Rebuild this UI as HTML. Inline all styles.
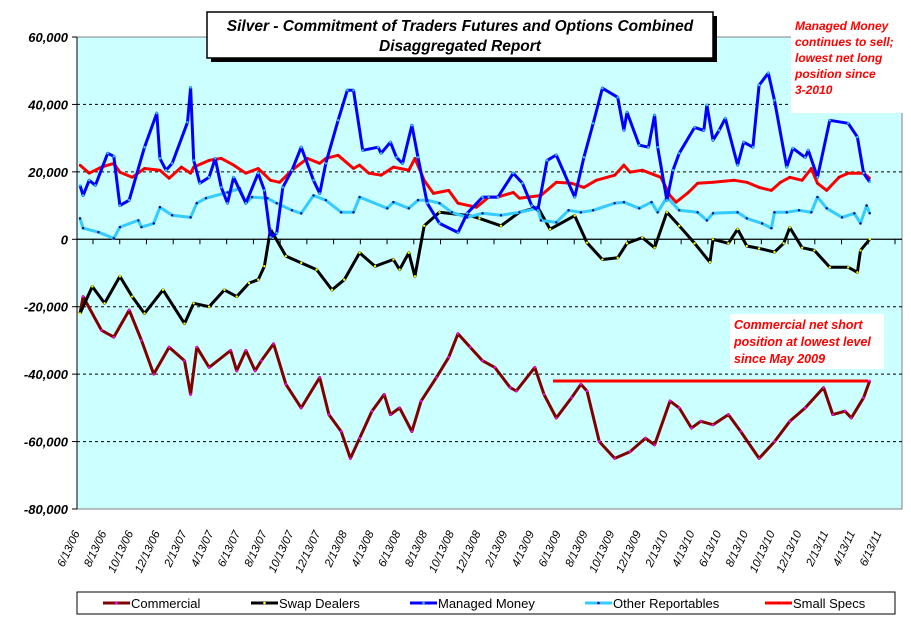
<!DOCTYPE html>
<html><head><meta charset="utf-8"><style>
body{margin:0;background:#fff;width:911px;height:623px;overflow:hidden;font-family:"Liberation Sans",sans-serif}
</style></head><body>
<svg id="chart" width="911" height="623" xmlns="http://www.w3.org/2000/svg" font-family="Liberation Sans, sans-serif"></svg>
<script>
const yTicks=[60000,40000,20000,0,-20000,-40000,-60000,-80000];
const yTickLabels=["60,000","40,000","20,000","0","-20,000","-40,000","-60,000","-80,000"];
const xLabels=["6/13/06","8/13/06","10/13/06","12/13/06","2/13/07","4/13/07","6/13/07","8/13/07","10/13/07","12/13/07","2/13/08","4/13/08","6/13/08","8/13/08","10/13/08","12/13/08","2/13/09","4/13/09","6/13/09","8/13/09","10/13/09","12/13/09","2/13/10","4/13/10","6/13/10","8/13/10","10/13/10","12/13/10","2/13/11","4/13/11","6/13/11"];
const seriesNames=["Commercial","Swap Dealers","Managed Money","Other Reportables","Small Specs"];
const comWeeks=[0,1,7,11,16,20,24,29,34,36,38,42,49,51,54,57,59,63,67,72,78,81,85,88,91,95,99,101,104,108,111,116,120,123,127,131,135,140,142,148,151,155,160,163,165,169,174,179,184,187,192,195,199,202,206,211,215,221,226,231,236,242,245,249,251,255,257];
const comVals=[-22000,-17000,-27000,-29000,-21000,-30000,-40000,-32000,-36000,-46000,-32000,-38000,-33000,-39000,-33000,-39000,-36000,-31000,-43000,-50000,-41000,-52000,-57000,-65000,-59000,-51000,-46000,-52000,-50000,-57000,-48000,-41000,-35000,-28000,-32000,-36000,-38000,-44000,-45000,-38000,-46000,-53000,-47000,-43000,-45000,-60000,-65000,-63000,-59000,-61000,-48000,-50000,-56000,-54000,-55000,-52000,-57000,-65000,-60000,-54000,-50000,-44000,-52000,-51000,-53000,-47000,-42000];
const swapWeeks=[0,4,8,13,17,21,27,34,37,42,47,51,55,58,60,62,67,72,77,82,86,91,96,102,104,107,109,112,117,127,130,137,143,149,153,161,165,170,175,178,183,187,191,195,200,205,206,211,214,217,221,226,229,231,235,239,244,250,253,254,257];
const swapVals=[-22000,-14000,-19000,-11000,-17000,-22000,-15000,-25000,-19000,-20000,-15000,-17000,-13000,-12000,-8000,3000,-5000,-7000,-9000,-15000,-12000,-4000,-8000,-6000,-9000,-4000,-11000,4000,8000,7000,6200,4000,8000,9500,3000,7000,-1000,-6000,-5500,-1200,500,-2500,8000,4000,-1200,-6800,0,-1200,3000,-2000,-2700,-3800,-1200,3500,-2500,-3300,-8300,-8300,-9800,-3300,0];
const mmWeeks=[0,1,3,5,9,11,13,16,21,25,26,28,30,35,36,37,39,42,44,46,48,50,54,58,60,62,64,66,69,72,76,78,80,84,87,89,92,97,98,101,103,105,108,110,113,117,123,126,131,133,136,141,144,147,149,152,155,161,164,167,170,175,177,178,182,185,187,188,191,193,195,200,203,204,206,208,210,214,216,219,221,224,226,230,232,236,237,240,244,250,253,255,257];
const mmVals=[16000,13000,17500,16000,25500,24600,10000,11600,27300,37400,24000,20500,22500,34700,45000,23400,16600,18400,24000,15400,10700,18400,10700,19600,14500,600,1800,15400,20500,27300,17500,13600,22500,35300,44200,44200,26400,27300,25500,28800,24300,22500,33800,24300,10700,4700,2000,7700,12500,12500,12500,19600,16600,10000,8600,23400,25000,12500,24300,34400,44800,42100,32300,37700,27900,27300,36800,27300,11600,20500,25500,33200,32300,39800,29400,32300,35900,22000,28800,27300,45700,49300,41200,21400,27000,24300,26400,18400,35300,34400,30300,19600,17000];
const othWeeks=[0,1,6,11,13,19,20,24,26,30,36,38,41,48,52,54,56,61,64,69,72,76,80,85,89,91,100,102,107,110,113,117,121,126,131,137,143,149,150,155,159,163,167,174,177,182,186,188,191,195,201,204,206,214,217,222,225,226,230,234,238,240,243,248,252,254,256,257];
const othVals=[6200,3300,2100,300,3600,5600,3600,4700,9500,7100,6500,10700,12200,13900,15100,10700,12500,12200,10700,8600,7700,13000,11600,8000,8000,12500,9200,11000,9200,11600,11600,10700,8000,6500,7700,7100,8000,9200,5600,5000,8600,8000,8600,10700,11000,9200,11000,8000,12500,8600,8000,5600,7700,8000,6200,4700,3300,8000,8000,8600,8000,12500,9200,6500,7700,4700,10000,7700];
const ssWeeks=[0,3,7,11,13,17,21,26,29,33,36,37,42,46,50,54,58,62,65,69,74,78,80,84,89,91,94,98,102,107,109,112,115,120,123,129,133,136,141,143,150,155,160,164,168,174,177,179,183,189,192,194,198,201,206,213,217,221,225,228,231,235,238,240,243,247,250,255,257];
const ssVals=[22000,19600,21400,22500,19900,18400,21000,20500,18100,21400,19600,21400,23400,24000,22000,19600,21000,17500,16900,20500,24000,22500,24000,24900,21000,22000,19600,19000,21400,20500,24000,17500,13600,14500,10700,9500,12500,12500,13900,12200,13000,16900,16600,15400,17500,19000,22000,19900,20500,18400,13000,11000,13900,16600,16900,17500,16900,15400,14500,16900,18400,17500,21000,16600,14500,18400,19600,19600,18100];

const NS="http://www.w3.org/2000/svg";
const svg=document.getElementById('chart');
const L=77,R=902,T=37,B=509;
const yMin=-80000,yMax=60000,x0=80,x1=882,wMax=261;
function yS(v){return B-(v-yMin)/(yMax-yMin)*(B-T);}
function xS(w){return x0+w/wMax*(x1-x0);}
function el(tag,attrs,parent){const e=document.createElementNS(NS,tag);for(const k in attrs)e.setAttribute(k,attrs[k]);(parent||svg).appendChild(e);return e;}

let plot=el('rect',{x:L,y:T,width:R-L,height:B-T,fill:'#CCFFFF',stroke:'#808080','stroke-width':1});



yTicks.forEach((v,i)=>{
  const y=yS(v);
  if(v!==0 && v!==yMax && v!==yMin){
    let g=el('line',{x1:L,x2:R,y1:y,y2:y,stroke:'#000','stroke-dasharray':'3,3','stroke-width':1});
    
    
  }
  el('line',{x1:L-5,x2:L,y1:y,y2:y,stroke:'#000'});
  let t=el('text',{x:L-9,y:y+5,'text-anchor':'end','font-size':13,'font-weight':'bold','font-style':'italic'});
  t.textContent=yTickLabels[i];
  
  
});
el('line',{x1:L,x2:L,y1:T,y2:B,stroke:'#000'});
let zero=el('line',{x1:L,x2:R,y1:yS(0),y2:yS(0),stroke:'#000','stroke-width':1.3});



xLabels.forEach((lab,i)=>{
  const x=x0+i*(x1-x0)/(xLabels.length-1);
  el('line',{x1:x+13,x2:x+13,y1:yS(0),y2:yS(0)+5,stroke:'#000'});
  let t=el('text',{x:x,y:533,'text-anchor':'end','font-size':11.5,'font-style':'italic',transform:`rotate(-65 ${x} 533)`});
  t.textContent=lab;
  
  
});

const series=[
 {w:comWeeks,v:comVals,c:'#800000',m:'#FF00FF',name:'commercial-line'},
 {w:swapWeeks,v:swapVals,c:'#000000',m:'#FFFF00',name:'swap-dealers-line'},
 {w:mmWeeks,v:mmVals,c:'#0000FF',m:'#33CCFF',name:'managed-money-line'},
 {w:othWeeks,v:othVals,c:'#33CCFF',m:'#000080',name:'other-reportables-line'},
 {w:ssWeeks,v:ssVals,c:'#FF0000',m:'#CC0000',name:'small-specs-line'}
];
const order=[0,1,3,4,2];
order.forEach(si=>{
  const s=series[si];
  const d=s.w.map((w,i)=>(i?'L':'M')+xS(w).toFixed(1)+','+yS(s.v[i]).toFixed(1)).join(' ');
  let p=el('path',{d:d,fill:'none',stroke:s.c,'stroke-width':3,'stroke-linejoin':'round'});
  
  
  s.w.forEach((w,i)=>{
    let c=el('circle',{cx:xS(w),cy:yS(s.v[i]),r:1.2,fill:s.m});
    
    
  });
});

let ref=el('line',{x1:553,x2:868,y1:381,y2:381,stroke:'#FF0000','stroke-width':3});



el('rect',{x:211,y:16,width:506,height:46,fill:'#000'});
let tb=el('rect',{x:207,y:12,width:506,height:46,fill:'#fff',stroke:'#000','stroke-width':1.5});


let t1=el('text',{x:460,y:31,'text-anchor':'middle','font-size':15.5,'font-weight':'bold','font-style':'italic'});
t1.textContent='Silver - Commitment of Traders Futures and Options Combined';


let t2=el('text',{x:460,y:51,'text-anchor':'middle','font-size':15.5,'font-weight':'bold','font-style':'italic'});
t2.textContent='Disaggregated Report';



let a1=el('rect',{x:791,y:16,width:112,height:97,fill:'#fff'});


["Managed Money","continues to sell;","lowest net long","position since","3-2010"].forEach((s,i)=>{
  let t=el('text',{x:795,y:30+i*16,'font-size':12,'font-weight':'bold','font-style':'italic',fill:'#FF0000'});
  t.textContent=s;
  
  
});
let a2=el('rect',{x:730,y:314,width:154,height:55,fill:'#fff'});


["Commercial net short","position at lowest level","since May 2009"].forEach((s,i)=>{
  let t=el('text',{x:734,y:329+i*17,'font-size':12.5,'font-weight':'bold','font-style':'italic',fill:'#FF0000'});
  t.textContent=s;
  
  
});

let lg=el('rect',{x:77,y:592,width:818,height:22,fill:'#fff',stroke:'#000'});


const legX=[103,251,410,585,765];
seriesNames.forEach((n,i)=>{
  const s=series[i];
  const g=el('g',{});
  
  
  el('line',{x1:legX[i],x2:legX[i]+27,y1:603,y2:603,stroke:s.c,'stroke-width':3},g);
  el('circle',{cx:legX[i]+13.5,cy:603,r:1.3,fill:s.m},g);
  const t=el('text',{x:legX[i]+28,y:608,'font-size':13},g);
  t.textContent=n;
});
</script>
</body></html>
